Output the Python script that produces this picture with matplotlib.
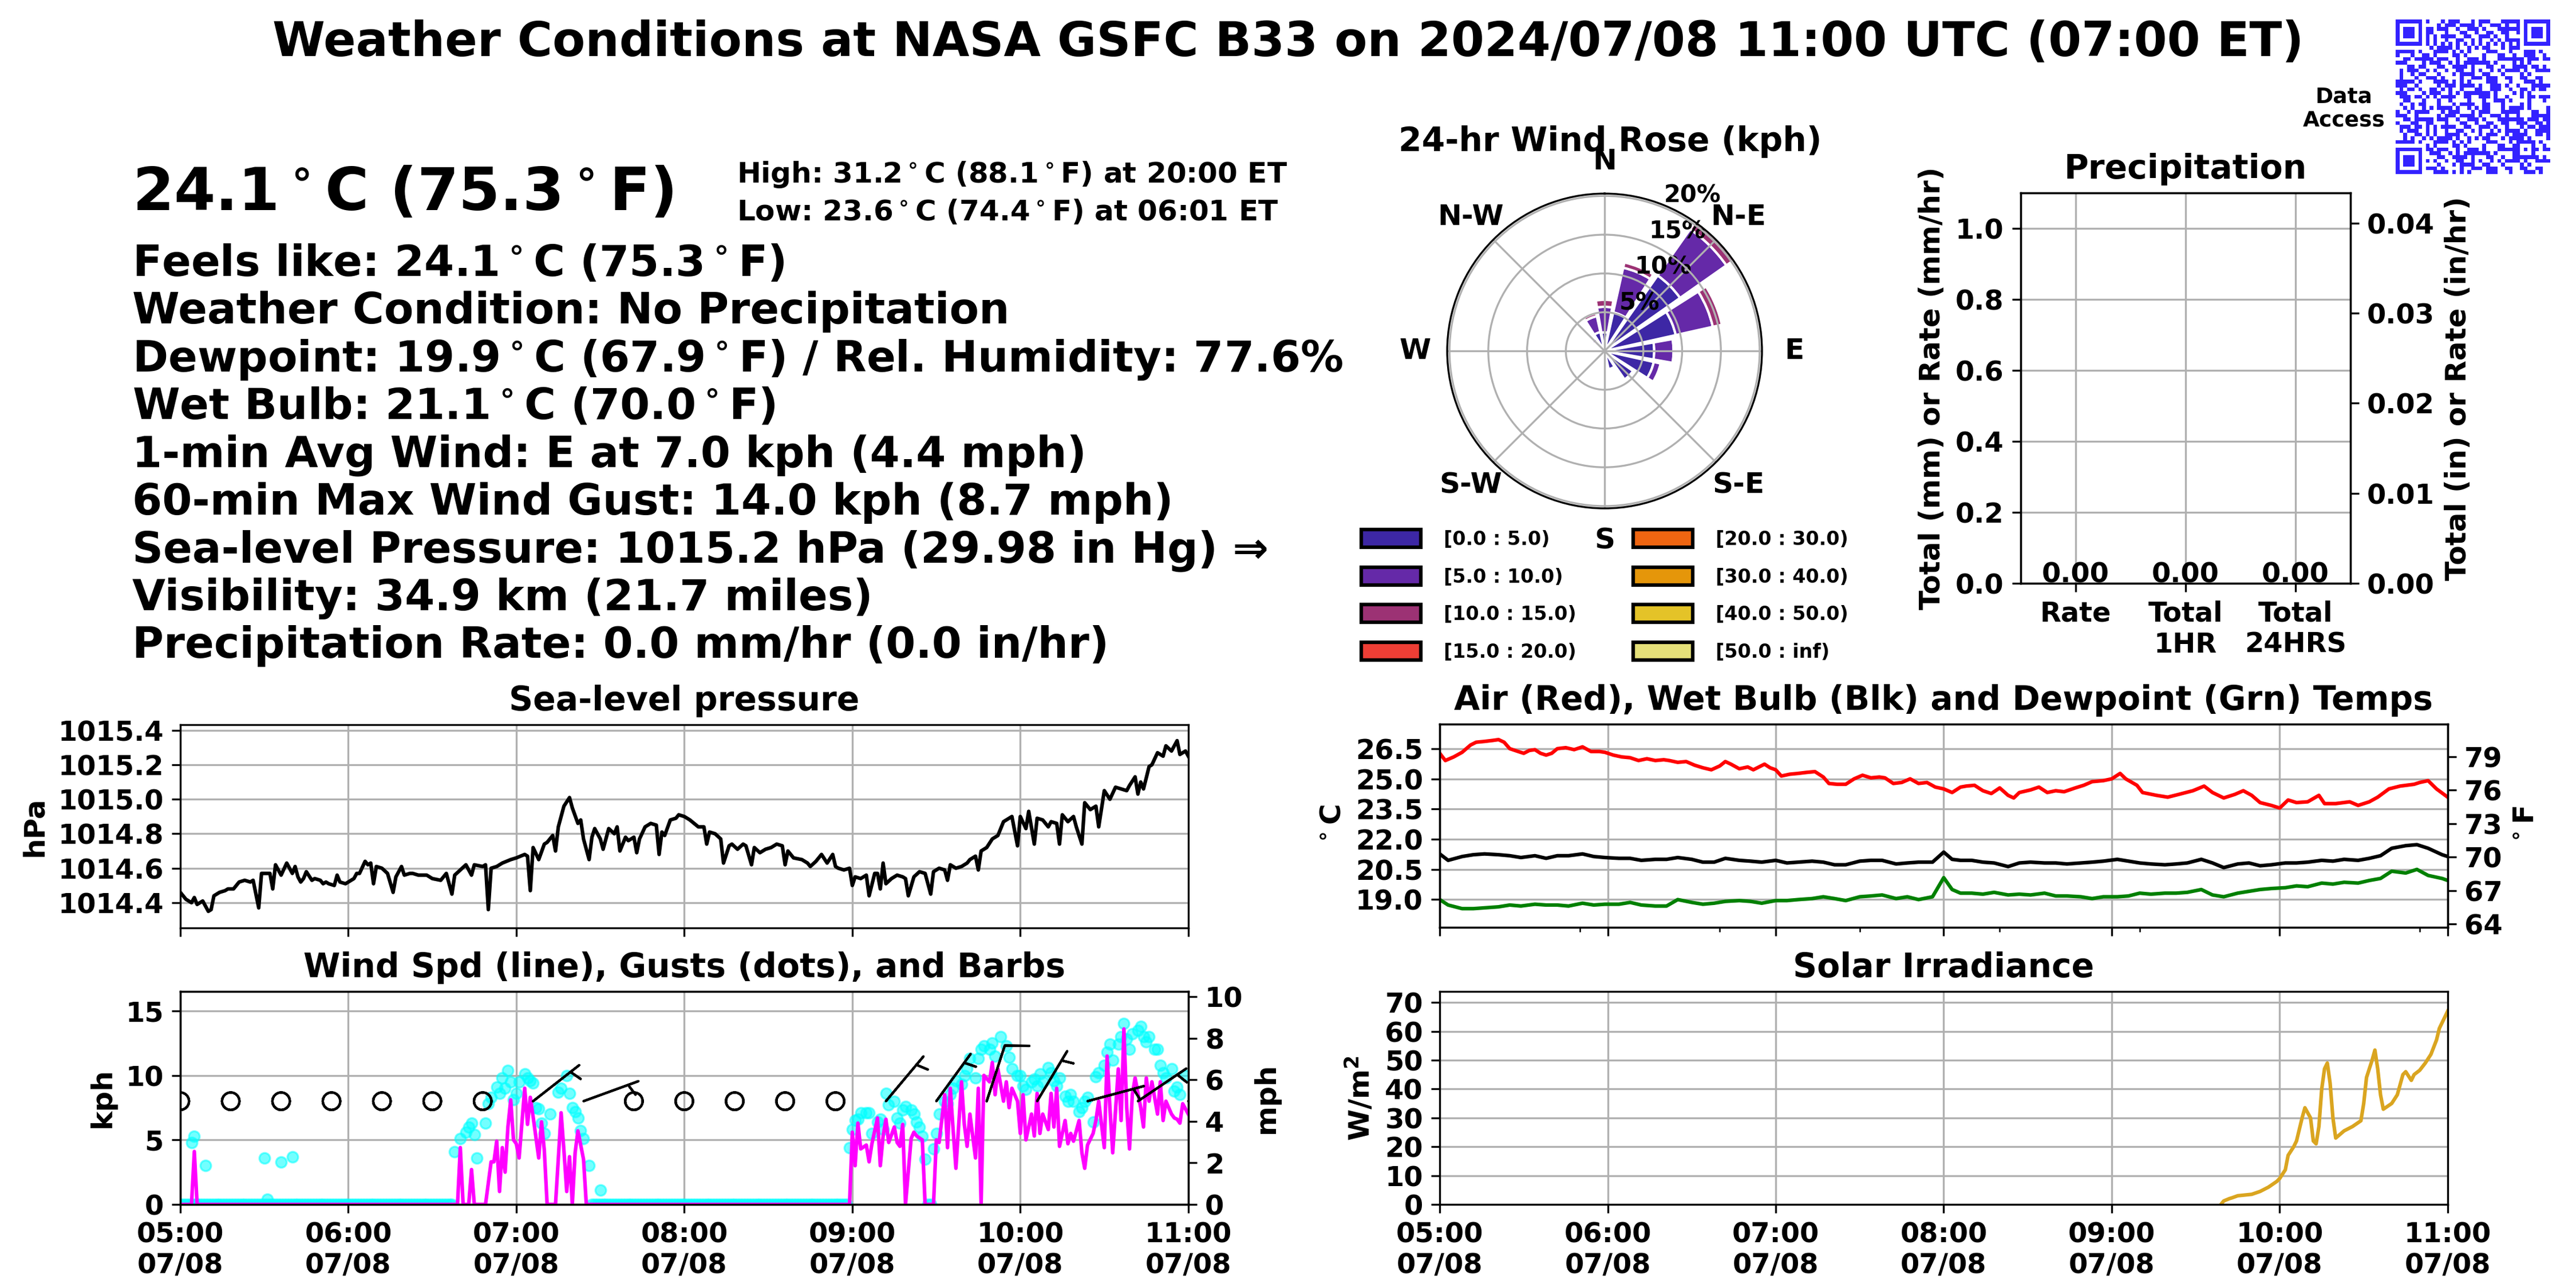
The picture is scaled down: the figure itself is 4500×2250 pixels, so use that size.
import numpy as np
import pandas as pd
import matplotlib
matplotlib.use("Agg")
import matplotlib.pyplot as plt
import matplotlib.dates as mdates
from matplotlib.patches import Patch
from matplotlib.colors import ListedColormap
from matplotlib.ticker import FormatStrFormatter

plt.rcParams["font.family"] = ["DejaVu Sans"]
plt.rcParams["font.weight"] = "bold"
plt.rcParams["axes.titleweight"] = "bold"
plt.rcParams["axes.labelweight"] = "bold"
plt.rcParams["font.size"] = 11.5
plt.rcParams["axes.titlesize"] = 14
plt.rcParams["axes.labelsize"] = 12

# ---- data (minutes after 05:00 UTC on 2024/07/08) ----
p_min = [0, 1, 2, 4, 5, 6, 8, 10, 11, 12, 14, 16, 17, 19, 21, 23, 25, 26, 28, 29,
         31, 32, 33, 34, 36, 38, 40, 41, 42, 43, 44, 45, 47, 48, 50, 51, 52, 53, 55, 56,
         57, 59, 62, 63, 64, 66, 67, 68, 69, 70, 72, 74, 76, 77, 79, 80, 82, 83, 85, 88,
         90, 93, 95, 97, 98, 100, 102, 104, 105, 108, 109, 110, 111, 113, 115, 118, 120, 123, 124, 125,
         126, 128, 130, 131, 133, 134, 135, 137, 139, 140, 142, 143, 144, 146, 147, 148, 150, 151, 153, 155,
         156, 157, 159, 160, 162, 163, 164, 166, 168, 170, 171, 172, 173, 175, 177, 178, 180, 182, 185, 187,
         188, 189, 191, 193, 194, 196, 197, 199, 201, 202, 204, 205, 207, 209, 211, 213, 215, 216, 217, 219,
         222, 224, 225, 227, 229, 231, 233, 234, 235, 237, 239, 240, 241, 243, 245, 246, 248, 249, 250, 251,
         252, 254, 256, 258, 259, 260, 262, 264, 266, 268, 269, 271, 273, 274, 275, 277, 279, 281, 282, 284,
         285, 286, 288, 290, 292, 294, 295, 297, 299, 300, 302, 303, 305, 306, 308, 310, 311, 313, 314, 315,
         317, 319, 320, 322, 323, 325, 327, 328, 330, 332, 334, 336, 338, 339, 341, 342, 343, 344, 346, 347,
         349, 351, 352, 354, 356, 357, 359, 360]
p_hpa = [1014.46, 1014.44, 1014.42, 1014.40, 1014.43, 1014.39, 1014.41, 1014.35, 1014.36, 1014.44,
         1014.46, 1014.47, 1014.48, 1014.48, 1014.52, 1014.53, 1014.52, 1014.53, 1014.37, 1014.57,
         1014.57, 1014.57, 1014.48, 1014.62, 1014.56, 1014.63, 1014.57, 1014.61, 1014.55, 1014.52,
         1014.54, 1014.58, 1014.53, 1014.54, 1014.53, 1014.51, 1014.52, 1014.51, 1014.50, 1014.56,
         1014.52, 1014.51, 1014.54, 1014.57, 1014.57, 1014.64, 1014.62, 1014.63, 1014.51, 1014.61,
         1014.60, 1014.57, 1014.46, 1014.55, 1014.61, 1014.56, 1014.57, 1014.57, 1014.56, 1014.56,
         1014.54, 1014.53, 1014.57, 1014.45, 1014.56, 1014.59, 1014.62, 1014.56, 1014.62, 1014.61,
         1014.62, 1014.36, 1014.60, 1014.61, 1014.63, 1014.65, 1014.66, 1014.68, 1014.67, 1014.47,
         1014.72, 1014.65, 1014.74, 1014.75, 1014.79, 1014.70, 1014.84, 1014.96, 1015.01, 1014.95,
         1014.86, 1014.88, 1014.77, 1014.65, 1014.78, 1014.83, 1014.77, 1014.71, 1014.83, 1014.80,
         1014.84, 1014.70, 1014.78, 1014.76, 1014.78, 1014.69, 1014.77, 1014.84, 1014.86, 1014.85,
         1014.68, 1014.81, 1014.79, 1014.88, 1014.89, 1014.91, 1014.90, 1014.88, 1014.84, 1014.84,
         1014.74, 1014.81, 1014.80, 1014.77, 1014.63, 1014.73, 1014.74, 1014.71, 1014.74, 1014.73,
         1014.62, 1014.72, 1014.69, 1014.71, 1014.72, 1014.74, 1014.73, 1014.62, 1014.70, 1014.66,
         1014.65, 1014.63, 1014.61, 1014.64, 1014.68, 1014.63, 1014.68, 1014.61, 1014.60, 1014.59,
         1014.60, 1014.50, 1014.55, 1014.54, 1014.56, 1014.44, 1014.57, 1014.57, 1014.48, 1014.63,
         1014.51, 1014.54, 1014.56, 1014.55, 1014.54, 1014.44, 1014.55, 1014.58, 1014.57, 1014.45,
         1014.58, 1014.60, 1014.59, 1014.53, 1014.62, 1014.60, 1014.61, 1014.63, 1014.65, 1014.67,
         1014.59, 1014.70, 1014.72, 1014.77, 1014.79, 1014.87, 1014.88, 1014.90, 1014.73, 1014.90,
         1014.83, 1014.93, 1014.74, 1014.89, 1014.88, 1014.84, 1014.87, 1014.86, 1014.74, 1014.91,
         1014.87, 1014.90, 1014.84, 1014.74, 1014.98, 1014.94, 1014.96, 1014.84, 1015.05, 1015.00,
         1015.07, 1015.06, 1015.05, 1015.08, 1015.13, 1015.03, 1015.10, 1015.06, 1015.19, 1015.20,
         1015.27, 1015.25, 1015.31, 1015.28, 1015.34, 1015.26, 1015.28, 1015.25]

spd_min = [0, 4, 5, 6, 99, 100, 101, 103, 104, 105, 109, 111, 112, 113, 114, 115, 116, 117, 118, 119,
           120, 121, 123, 124, 125, 126, 128, 129, 130, 131, 134, 136, 137, 138, 139, 140, 141, 142, 144, 145,
           239, 240, 241, 242, 243, 245, 246, 247, 249, 250, 251, 252, 253, 255, 256, 257, 258, 259, 261, 262,
           263, 265, 266, 269, 270, 271, 273, 274, 275, 276, 277, 279, 280, 281, 282, 284, 285, 286, 287, 289,
           290, 291, 292, 294, 295, 296, 297, 299, 300, 301, 302, 304, 305, 306, 307, 308, 310, 311, 312, 313,
           314, 316, 317, 318, 319, 321, 322, 323, 324, 326, 327, 328, 330, 331, 332, 333, 335, 336, 337, 338,
           339, 340, 341, 343, 344, 345, 346, 347, 349, 350, 351, 352, 354, 355, 356, 357, 358, 360]
spd_kph = [0, 0, 4.1, 0, 0, 4.4, 0, 0, 2.7, 0, 0, 3.3, 3.3, 4.9, 1.0, 4.4, 2.5, 6.0, 8.1, 5.0,
           4.7, 3.6, 9.0, 6.2, 8.3, 6.8, 3.6, 6.4, 4.2, 0, 0, 7.1, 4.2, 1.0, 3.7, 0, 4.0, 5.7, 3.5, 0,
           0, 5.6, 3.0, 6.3, 4.3, 4.6, 3.3, 4.7, 6.7, 3.0, 5.3, 6.6, 4.8, 6.0, 4.8, 4.5, 6.2, 0, 5.1, 5.6,
           5.3, 5.0, 0, 0, 5.0, 4.8, 8.5, 4.4, 9.0, 5.8, 2.8, 9.5, 6.2, 4.5, 7.0, 3.6, 9.0, 0, 10.0, 9.5,
           11.0, 8.5, 10.5, 8.0, 9.5, 7.5, 9.0, 8.0, 5.5, 8.5, 5.0, 7.0, 5.3, 8.6, 5.5, 7.0, 5.8, 8.6, 6.0, 9.0,
           4.5, 6.5, 4.7, 5.5, 4.9, 6.5, 4.0, 2.8, 4.6, 5.5, 6.5, 8.0, 4.4, 11.5, 7.5, 4.0, 10.5, 6.5, 13.6, 7.5,
           4.3, 8.5, 9.8, 7.5, 6.0, 9.8, 8.0, 9.5, 7.0, 9.5, 6.5, 8.0, 7.0, 6.7, 6.6, 6.3, 7.8, 7.0]

gust_min = [4, 5, 9, 30, 31, 36, 40, 98, 100, 102, 103, 104, 105, 106, 109, 110, 111, 113, 114, 115,
            116, 117, 118, 119, 120, 121, 123, 124, 125, 126, 127, 128, 129, 130, 132, 135, 136, 138, 139, 140,
            141, 142, 143, 144, 146, 150, 239, 240, 241, 242, 243, 245, 246, 247, 249, 250, 251, 252, 253, 255,
            256, 257, 258, 259, 261, 262, 263, 264, 265, 266, 269, 270, 271, 273, 274, 275, 276, 277, 279, 280,
            281, 282, 284, 285, 286, 287, 289, 290, 291, 293, 295, 296, 297, 299, 300, 301, 302, 304, 305, 306,
            307, 308, 310, 311, 312, 313, 314, 316, 317, 318, 319, 321, 322, 323, 324, 326, 327, 328, 330, 331,
            332, 333, 335, 336, 337, 338, 339, 340, 342, 343, 344, 345, 346, 348, 349, 350, 351, 352, 354, 355,
            356, 357, 359]
gust_kph = [4.8, 5.3, 3.0, 3.6, 0.4, 3.3, 3.7, 4.1, 5.1, 5.6, 6.0, 6.3, 5.4, 3.6, 6.3, 7.8, 8.3, 9.1, 8.6, 9.8,
            9.0, 10.4, 9.5, 8.1, 8.6, 9.5, 10.1, 9.8, 9.6, 9.4, 7.5, 7.4, 6.3, 5.5, 7.0, 8.7, 9.0, 10.0, 8.6, 7.5,
            7.2, 6.7, 5.7, 5.1, 3.0, 1.1, 4.4, 5.8, 6.5, 6.6, 7.1, 7.1, 7.1, 5.5, 6.4, 6.6, 5.8, 8.6, 7.7, 8.0,
            6.7, 6.3, 7.3, 7.6, 7.3, 7.0, 6.4, 6.0, 5.3, 3.5, 4.3, 5.5, 7.0, 8.0, 7.8, 8.5, 9.0, 9.6, 9.3, 10.0,
            10.5, 11.3, 9.8, 11.3, 12.0, 12.3, 12.0, 12.5, 11.5, 13.0, 12.3, 11.4, 10.5, 10.0, 10.0, 9.2, 8.9, 9.5, 9.7, 9.2,
            10.1, 9.5, 10.6, 10.2, 9.6, 9.2, 9.8, 8.4, 8.0, 8.5, 8.0, 7.2, 7.5, 8.0, 8.3, 6.4, 9.9, 10.2, 10.8, 11.8,
            12.4, 11.2, 12.4, 13.0, 14.0, 12.8, 12.0, 13.2, 13.5, 13.8, 13.0, 12.6, 13.0, 12.0, 12.0, 10.8, 10.2, 9.8, 10.5, 8.8,
            9.1, 8.5, 10.0]
# minutes where the gust reading sat at 0 kph
gust_calm_spans = [(0, 97), (147, 238), (267, 268)]

barb_min = [0, 18, 36, 54, 72, 90, 108, 126, 144, 162, 180, 198, 216, 234, 252, 270, 288, 306, 324, 342, 360]
barb_kph = [0, 0, 0, 0, 0, 0, 0, 6, 6, 0, 0, 0, 0, 0, 6, 6, 10, 6, 6, 6, 7]
barb_dir = [0, 0, 0, 0, 0, 0, 0, 52, 70, 0, 0, 0, 0, 0, 40, 36, 18, 31, 75, 56, 90]

air_min = [0, 2, 5, 8, 11, 13, 16, 19, 21, 23, 25, 28, 30, 32, 34, 36, 38, 40, 42, 45,
           48, 51, 54, 57, 59, 62, 65, 68, 71, 74, 77, 80, 82, 85, 88, 91, 94, 97, 100, 102,
           104, 107, 110, 112, 114, 116, 118, 120, 122, 125, 128, 131, 134, 137, 139, 142, 145, 148, 151, 154,
           157, 159, 162, 165, 168, 171, 174, 177, 180, 183, 186, 188, 191, 194, 197, 200, 203, 205, 207, 211,
           214, 217, 220, 223, 227, 230, 233, 237, 240, 243, 245, 249, 251, 256, 260, 264, 269, 273, 276, 280,
           284, 287, 290, 293, 297, 300, 303, 306, 310, 314, 316, 320, 325, 328, 332, 335, 339, 343, 348, 350,
           353, 356, 360]
air_c = [26.27, 25.91, 26.09, 26.32, 26.68, 26.82, 26.86, 26.91, 26.95, 26.82,
         26.50, 26.36, 26.27, 26.41, 26.45, 26.27, 26.18, 26.27, 26.50, 26.55,
         26.45, 26.59, 26.36, 26.36, 26.32, 26.18, 26.09, 26.05, 25.91, 26.00,
         25.91, 25.95, 25.91, 25.82, 25.86, 25.68, 25.55, 25.45, 25.64, 25.86,
         25.73, 25.50, 25.59, 25.45, 25.59, 25.73, 25.55, 25.45, 25.14, 25.23,
         25.27, 25.32, 25.36, 25.09, 24.77, 24.73, 24.73, 25.00, 25.18, 25.05,
         25.09, 25.05, 24.77, 24.82, 25.00, 24.77, 24.82, 24.59, 24.50, 24.32,
         24.59, 24.64, 24.68, 24.41, 24.27, 24.55, 24.18, 24.05, 24.32, 24.45,
         24.59, 24.32, 24.41, 24.36, 24.55, 24.68, 24.86, 24.91, 25.00, 25.27,
         25.00, 24.68, 24.32, 24.18, 24.09, 24.23, 24.41, 24.64, 24.32, 24.05,
         24.23, 24.41, 24.18, 23.82, 23.68, 23.55, 23.95, 23.82, 23.86, 24.18,
         23.77, 23.77, 23.86, 23.68, 23.86, 24.09, 24.50, 24.64, 24.73, 24.82,
         24.91, 24.50, 24.09]

wb_min = [0, 3, 8, 12, 16, 21, 25, 29, 34, 38, 42, 46, 51, 55, 59, 64, 68, 72, 77, 81,
          85, 90, 94, 98, 102, 107, 111, 115, 120, 124, 128, 133, 137, 141, 145, 150, 154, 158, 163, 167,
          171, 176, 180, 183, 186, 190, 194, 198, 203, 207, 211, 216, 220, 224, 229, 233, 237, 242, 246, 250,
          254, 259, 263, 267, 272, 276, 280, 285, 289, 293, 297, 302, 306, 310, 315, 319, 323, 328, 332, 336,
          340, 345, 349, 353, 358, 360]
wetbulb_c = [21.27, 20.95, 21.14, 21.23, 21.27, 21.23, 21.18, 21.09, 21.18, 21.05,
             21.18, 21.18, 21.27, 21.14, 21.09, 21.05, 21.05, 20.95, 21.00, 21.00,
             21.09, 21.00, 20.86, 20.86, 21.05, 20.95, 20.91, 20.86, 20.95, 20.82,
             20.86, 20.91, 20.86, 20.73, 20.73, 20.91, 20.95, 20.95, 20.77, 20.82,
             20.86, 20.86, 21.36, 21.00, 20.95, 20.95, 20.86, 20.82, 20.64, 20.82,
             20.86, 20.82, 20.82, 20.77, 20.82, 20.86, 20.91, 21.00, 20.91, 20.82,
             20.77, 20.73, 20.77, 20.82, 21.00, 20.82, 20.59, 20.77, 20.82, 20.68,
             20.73, 20.82, 20.82, 20.86, 20.95, 20.91, 21.00, 20.95, 21.05, 21.18,
             21.55, 21.68, 21.73, 21.55, 21.23, 21.14]
dewpt_c = [19.00, 18.73, 18.55, 18.55, 18.59, 18.64, 18.73, 18.68, 18.77, 18.73,
           18.73, 18.68, 18.82, 18.73, 18.77, 18.77, 18.86, 18.73, 18.68, 18.68,
           19.00, 18.86, 18.77, 18.82, 18.91, 18.95, 18.91, 18.82, 18.95, 18.95,
           19.00, 19.05, 19.14, 19.05, 18.95, 19.14, 19.18, 19.23, 19.05, 19.14,
           19.00, 19.14, 20.09, 19.50, 19.32, 19.32, 19.27, 19.36, 19.23, 19.27,
           19.23, 19.32, 19.18, 19.18, 19.14, 19.05, 19.14, 19.14, 19.18, 19.32,
           19.27, 19.32, 19.32, 19.36, 19.50, 19.23, 19.14, 19.32, 19.41, 19.50,
           19.55, 19.59, 19.68, 19.64, 19.82, 19.77, 19.86, 19.82, 19.95, 20.05,
           20.41, 20.32, 20.50, 20.20, 20.05, 19.95]

sol_min = [279, 280, 282, 283, 285, 287, 290, 293, 296, 299, 300, 302, 303, 305, 306, 308, 309, 311, 312, 313,
           314, 315, 316, 317, 318, 319, 320, 323, 326, 329, 330, 331, 333, 334, 335, 336, 337, 340, 342, 344,
           345, 347, 348, 350, 352, 354, 356, 357, 360]
sol_wm2 = [0, 1.2, 2.0, 2.3, 3.0, 3.2, 3.5, 4.5, 6.0, 8.0, 9.0, 12.0, 17.0, 20.0, 22.0, 30.0, 33.5, 30.0, 22.0, 21.0,
           27.0, 40.0, 47.0, 49.0, 42.0, 30.0, 23.0, 25.5, 27.0, 29.0, 35.0, 44.0, 50.0, 53.5, 47.0, 38.0, 33.0, 35.0, 38.0, 45.0,
           46.0, 43.0, 45.0, 46.5, 49.0, 52.0, 57.0, 61.0, 67.0]

# 24-hr wind rose, percent of time per direction sector and speed bin
rose_sectors = ["N", "NNE", "NE", "ENE", "E", "ESE", "SE", "SSE",
                "S", "SSW", "SW", "WSW", "W", "WNW", "NW", "NNW"]
rose_0_5 = [2.4, 5.1, 11.9, 9.4, 6.4, 6.5, 4.5, 2.4, 1.1, 0.2, 0.2, 0.3, 0.8, 0.7, 1.6, 2.5]
rose_5_10 = [3.3, 5.9, 7.3, 4.9, 2.5, 0.9, 0.3, 0, 0, 0, 0, 0, 0.3, 0.2, 0.4, 2.1]
rose_10_15 = [0.9, 0.7, 1.1, 1.2, 0.3, 0, 0, 0, 0, 0, 0, 0, 0, 0, 0, 0.4]
speed_bins = ["[0.0 : 5.0)", "[5.0 : 10.0)", "[10.0 : 15.0)", "[15.0 : 20.0)",
              "[20.0 : 30.0)", "[30.0 : 40.0)", "[40.0 : 50.0)", "[50.0 : inf)"]
bin_colors = ["#3d27a5", "#6529a8", "#9c3274", "#ee3e35", "#ef6511", "#e5960a", "#e4c328", "#e5e079"]

precip_cats = ["Rate", "Total\n1HR", "Total\n24HRS"]
precip_mm = [0.0, 0.0, 0.0]

compass = ["N", "N-E", "E", "S-E", "S", "S-W", "W", "N-W"]

deg = r"$^\circ$"
info_lines = [
    f"Feels like: 24.1{deg}C (75.3{deg}F)",
    "Weather Condition: No Precipitation",
    f"Dewpoint: 19.9{deg}C (67.9{deg}F) / Rel. Humidity: 77.6%",
    f"Wet Bulb: 21.1{deg}C (70.0{deg}F)",
    "1-min Avg Wind: E at 7.0 kph (4.4 mph)",
    "60-min Max Wind Gust: 14.0 kph (8.7 mph)",
    "Sea-level Pressure: 1015.2 hPa (29.98 in Hg) \u21d2",
    "Visibility: 34.9 km (21.7 miles)",
    "Precipitation Rate: 0.0 mm/hr (0.0 in/hr)",
]

t_start = mdates.date2num(pd.Timestamp("2024-07-08 05:00").to_pydatetime())


def tnum(mins):
    return t_start + np.asarray(mins, dtype=float) / 1440.0


def qr_matrix(text, n=41):
    bits = np.unpackbits(np.frombuffer(text.encode() * 60, dtype=np.uint8))
    m = bits[: n * n].reshape(n, n).astype(bool)
    ii, jj = np.indices((n, n))
    m ^= (ii * jj) % 3 == 0
    for r, c in [(0, 0), (0, n - 7), (n - 7, 0)]:
        m[max(r - 1, 0):min(r + 8, n), max(c - 1, 0):min(c + 8, n)] = False
        m[r:r + 7, c:c + 7] = True
        m[r + 1:r + 6, c + 1:c + 6] = False
        m[r + 2:r + 5, c + 2:c + 5] = True
    a = n - 7
    m[a - 2:a + 3, a - 2:a + 3] = True
    m[a - 1:a + 2, a - 1:a + 2] = False
    m[a, a] = True
    m[6, 8:n - 8] = np.arange(8, n - 8) % 2 == 0
    m[8:n - 8, 6] = np.arange(8, n - 8) % 2 == 0
    return m


fig = plt.figure(figsize=(15, 7.5), dpi=300)

fig.text(0.5, 0.967, "Weather Conditions at NASA GSFC B33 on 2024/07/08 11:00 UTC (07:00 ET)",
         ha="center", va="center", fontsize=20)

# current conditions text block
fig.text(0.0513, 0.8369, f"24.1{deg}C (75.3{deg}F)", fontsize=25, va="baseline")
fig.text(0.286, 0.8582, f"High: 31.2{deg}C (88.1{deg}F) at 20:00 ET", fontsize=12, va="baseline")
fig.text(0.286, 0.8289, f"Low: 23.6{deg}C (74.4{deg}F) at 06:01 ET", fontsize=12, va="baseline")
for k, line in enumerate(info_lines):
    fig.text(0.0513, 0.7858 - 0.03707 * k, line, fontsize=18, va="baseline")

# wind rose
ax_r = fig.add_axes([0.5618, 0.6053, 0.1222, 0.2444], projection="polar")
ax_r.set_theta_zero_location("N")
ax_r.set_theta_direction(-1)
theta = np.deg2rad(np.arange(len(rose_sectors)) * 22.5)
bottom = np.zeros(len(rose_sectors))
for vals, col in zip([rose_0_5, rose_5_10, rose_10_15], bin_colors):
    vals = np.asarray(vals, dtype=float)
    keep = vals > 0
    ax_r.bar(theta[keep], vals[keep], width=np.deg2rad(22.5) * 0.88, bottom=bottom[keep],
             color=col, edgecolor="white", linewidth=1.0)
    bottom = bottom + vals
ax_r.set_ylim(0, bottom.max())
ax_r.set_rgrids([5, 10, 15, 20], ["5%", "10%", "15%", "20%"], fontsize=10)
ax_r.set_thetagrids(np.arange(0, 360, 45), compass, fontsize=12)
ax_r.tick_params(axis="x", pad=3)
fig.text(0.6251, 0.8898, "24-hr Wind Rose (kph)", ha="center", va="center", fontsize=14)

handles = [Patch(facecolor=c, edgecolor="black", linewidth=1.5) for c in bin_colors]
fig.legend(handles, speed_bins, loc="center", bbox_to_anchor=(0.623, 0.5376), ncol=2,
           frameon=False, fontsize=8, handlelength=3.1, handleheight=1.05,
           handletextpad=1.2, columnspacing=3.0, labelspacing=0.95)

# precipitation
ax_pr = fig.add_axes([0.7844, 0.5471, 0.128, 0.3029])
bars = ax_pr.bar(np.arange(len(precip_cats)), precip_mm, width=0.6)
ax_pr.bar_label(bars, labels=[f"{v:.2f}" for v in precip_mm], fontsize=11.5, padding=-2)
ax_pr.set_xlim(-0.5, 2.5)
ax_pr.set_ylim(0, 1.1)
ax_pr.set_xticks(np.arange(len(precip_cats)), precip_cats)
ax_pr.grid(True)
ax_pr.set_title("Precipitation")
ax_pr.set_ylabel("Total (mm) or Rate (mm/hr)")
ax_pr2 = ax_pr.twinx()
ax_pr2.set_ylim(0, 1.1 / 25.4)
ax_pr2.set_yticks([0, 0.01, 0.02, 0.03, 0.04])
ax_pr2.yaxis.set_major_formatter(FormatStrFormatter("%.2f"))
ax_pr2.set_ylabel("Total (in) or Rate (in/hr)")

# QR code
ax_qr = fig.add_axes([0.930, 0.8649, 0.060, 0.1204])
ax_qr.imshow(qr_matrix("https://science.gsfc.nasa.gov/weather/b33"),
             cmap=ListedColormap(["white", "#3322ff"]), interpolation="nearest")
ax_qr.axis("off")
fig.text(0.910, 0.9156, "Data\nAccess", ha="center", va="center", fontsize=9, multialignment="center")

# time series panels
ax_p = fig.add_axes([0.070, 0.2796, 0.3913, 0.1578])
ax_w = fig.add_axes([0.070, 0.0649, 0.3913, 0.1653])
ax_t = fig.add_axes([0.5589, 0.2800, 0.3913, 0.1578])
ax_s = fig.add_axes([0.5589, 0.0649, 0.3913, 0.1653])

for ax in (ax_p, ax_w, ax_t, ax_s):
    ax.set_xlim(tnum(0), tnum(360))
    ax.xaxis.set_major_locator(mdates.HourLocator())
    ax.xaxis.set_major_formatter(mdates.DateFormatter("%H:%M\n%m/%d"))
    ax.grid(True)
ax_p.tick_params(labelbottom=False)
ax_t.tick_params(labelbottom=False)
ax_t.set_xticks(tnum([50, 100, 150, 200, 250, 300, 350]), minor=True)

ax_p.plot(tnum(p_min), p_hpa, color="black", lw=1.5)
ax_p.set_ylim(1014.254, 1015.433)
ax_p.set_yticks([1014.4, 1014.6, 1014.8, 1015.0, 1015.2, 1015.4])
ax_p.yaxis.set_major_formatter(FormatStrFormatter("%.1f"))
ax_p.set_title("Sea-level pressure")
ax_p.set_ylabel("hPa")

calm_min = np.concatenate([np.arange(a, b + 1) for a, b in gust_calm_spans])
all_gust_min = np.concatenate([calm_min, gust_min])
all_gust_kph = np.concatenate([np.zeros(len(calm_min)), gust_kph])
ax_w.scatter(tnum(all_gust_min), all_gust_kph, s=20, color="cyan", alpha=0.55, linewidths=0.8, zorder=2)
ax_w.plot(tnum(spd_min), spd_kph, color="magenta", lw=1.5, zorder=3)
spd = np.asarray(barb_kph, dtype=float)
rad = np.deg2rad(barb_dir)
barb_level = np.full(len(barb_min), 8.0)
ax_w.barbs(tnum(barb_min), barb_level, -spd * np.sin(rad), -spd * np.cos(rad), length=7, zorder=4)
ax_w.set_ylim(0, 16.5)
ax_w.set_yticks([0, 5, 10, 15])
ax_w.set_title("Wind Spd (line), Gusts (dots), and Barbs")
ax_w.set_ylabel("kph")
ax_w2 = ax_w.twinx()
ax_w2.set_ylim(0, 16.5 / 1.60934)
ax_w2.set_yticks([0, 2, 4, 6, 8, 10])
ax_w2.set_ylabel("mph")

ax_t.plot(tnum(air_min), air_c, color="red", lw=1.5)
ax_t.plot(tnum(wb_min), wetbulb_c, color="black", lw=1.5)
ax_t.plot(tnum(wb_min), dewpt_c, color="green", lw=1.5)
ax_t.set_ylim(17.62, 27.72)
ax_t.set_yticks([19.0, 20.5, 22.0, 23.5, 25.0, 26.5])
ax_t.yaxis.set_major_formatter(FormatStrFormatter("%.1f"))
ax_t.set_title("Air (Red), Wet Bulb (Blk) and Dewpoint (Grn) Temps")
ax_t.set_ylabel(f"{deg}C")
ax_t2 = ax_t.twinx()
ax_t2.set_ylim(17.62 * 1.8 + 32, 27.72 * 1.8 + 32)
ax_t2.set_yticks([64, 67, 70, 73, 76, 79])
ax_t2.set_ylabel(f"{deg}F")

ax_s.plot(tnum(sol_min), sol_wm2, color="goldenrod", lw=1.5)
ax_s.set_ylim(0, 73.8)
ax_s.set_yticks([0, 10, 20, 30, 40, 50, 60, 70])
ax_s.set_title("Solar Irradiance")
ax_s.set_ylabel("W/m$^2$")

fig.savefig("out.png", dpi=300)
